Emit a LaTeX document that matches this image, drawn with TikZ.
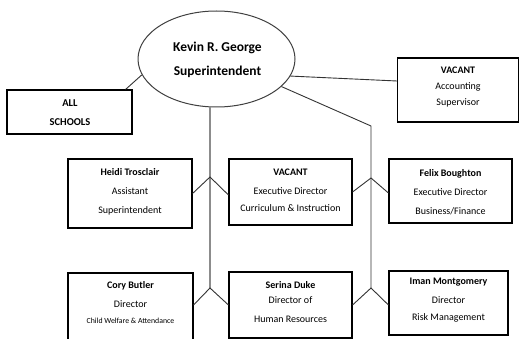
\documentclass[tikz,border=0pt]{standalone}
\usepackage{fontspec}
\setmainfont{Carlito}
\usetikzlibrary{shapes.geometric}
\tikzset{
  box/.style={draw=black, line width=1.1pt, rectangle, inner sep=0pt},
  txt/.style={align=center, font=\fontsize{10}{19}\selectfont, inner sep=0pt},
  conn/.style={draw=black!80, line width=0.9pt},
  trunk/.style={draw=black!45, line width=1.3pt},
}
\begin{document}
\begin{tikzpicture}[x=1pt,y=-1pt]
\useasboundingbox (0,0) rectangle (519,339);
% superintendent
\node[ellipse, draw=black!75, line width=1pt, minimum width=157pt, minimum height=96pt, inner sep=0pt] (sup) at (216.5,59) {};
\node[align=center, font=\fontsize{13.5}{24}\selectfont\bfseries, inner sep=0pt] (suptxt) at (217.5,60) {Kevin R. George\\Superintendent};
% boxes
\node[box, minimum width=125pt, minimum height=44pt] (all) at (69.5,112) {};
\node[txt, font=\fontsize{10.5}{19}\selectfont\bfseries] (alltxt) at (70,113) {ALL\\SCHOOLS};
\node[box, minimum width=121pt, minimum height=64pt] (acct) at (458,90) {};
\node[txt] (accttxt) at (458,87) {\textbf{VACANT}\\[-3pt]Accounting\\[-3pt]Supervisor};
\node[box, minimum width=124pt, minimum height=69pt] (heidi) at (130,193.5) {};
\node[txt] (heiditxt) at (130,192) {\textbf{Heidi Trosclair}\\Assistant\\Superintendent};
\node[box, minimum width=123pt, minimum height=66pt] (cur) at (290.5,192) {};
\node[txt] (curtxt) at (290.5,190) {\textbf{VACANT}\\Executive Director\\[-2pt]Curriculum \& Instruction};
\node[box, minimum width=123pt, minimum height=64pt] (fin) at (450.5,191) {};
\node[txt] (fintxt) at (450.5,192) {\textbf{Felix Boughton}\\Executive Director\\Business/Finance};
\node[box, minimum width=125pt, minimum height=80pt] (cory) at (130.5,313) {};
\node[txt] (corytxt) at (130.5,303) {\textbf{Cory Butler}\\Director\\[-3pt]{\fontsize{7.8}{10}\selectfont Child Welfare \& Attendance}};
\node[box, minimum width=123pt, minimum height=66pt] (hr) at (290.5,305) {};
\node[txt] (hrtxt) at (290.5,302) {\textbf{Serina Duke}\\[-4pt]Director of\\Human Resources};
\node[box, minimum width=119pt, minimum height=64pt] (risk) at (448.5,303) {};
\node[txt] (risktxt) at (448.5,300) {\textbf{Iman Montgomery}\\Director\\[-2pt]Risk Management};
% junctions
\coordinate (j1) at (210,177);
\coordinate (j2) at (210,288);
\coordinate (k0) at (371,126);
\coordinate (k1) at (371,178);
\coordinate (k2) at (371,288);
% connectors
\draw[conn] (all.north east) ++(-7,0) coordinate (a1) -- (sup.192);
\draw[conn] (sup.-13) -- (acct.west |- 0,81);
\draw[conn] (sup.-23.7) -- (k0) -- (k2);
\draw[trunk] (sup.south -| j1) -- (j2);
\draw[conn] (heidi.east) -- (j1) -- (cur.west |- 0,195);
\draw[conn] (fin.west |- 0,193) -- (k1) -- (cur.east |- 0,192);
\draw[conn] (cory.east |- 0,305) -- (j2) -- (hr.west);
\draw[conn] (hr.east) -- (k2) -- (risk.west |- 0,305);
\end{tikzpicture}
\end{document}
